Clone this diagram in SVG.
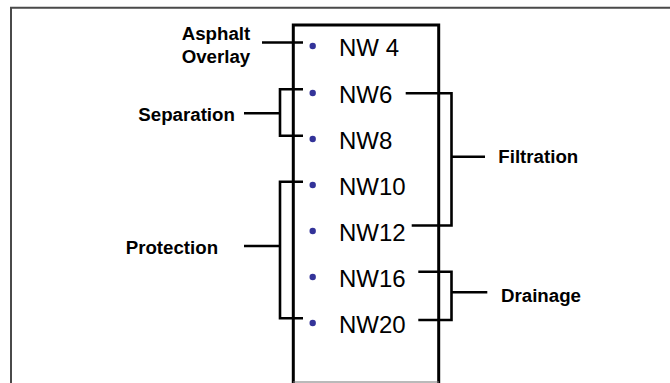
<svg xmlns="http://www.w3.org/2000/svg" width="670" height="383" viewBox="0 0 670 383">
<style>
.frame{fill:none;stroke:#4a4a4a;stroke-width:2}
.box{fill:none;stroke:#000;stroke-width:3}
.ln{fill:none;stroke:#000;stroke-width:2.6;stroke-linejoin:miter}
.dot{fill:#333399}
.nw{font-family:"Liberation Sans",Arial,Helvetica,sans-serif;font-size:24px;fill:#000}
.lbl{font-family:"Liberation Sans",Arial,Helvetica,sans-serif;font-size:18.7px;font-weight:bold;fill:#000}
</style>
<rect width="670" height="383" fill="#fff"/>
<path class="frame" d="M11,383 V7.7 H670"/>
<g id="box">
<path class="box" d="M293.3,383 V25 H438.7 V383"/>
<line x1="293" y1="382" x2="439" y2="382" stroke="#777" stroke-width="1.2"/>
</g>
<g id="connectors">
<line class="ln" x1="262" y1="42.5" x2="303" y2="42.5"/>
<path class="ln" d="M303,89.3 H280 V135.7 H303"/>
<line class="ln" x1="244" y1="113.3" x2="280" y2="113.3"/>
<path class="ln" d="M303,181.7 H280 V318.3 H303"/>
<line class="ln" x1="244" y1="246" x2="280" y2="246"/>
<path class="ln" d="M405.7,93.3 H451.5 V225.5 H411.7"/>
<line class="ln" x1="451.5" y1="156.7" x2="485" y2="156.7"/>
<path class="ln" d="M418.3,271.7 H451.5 V320 H418.3"/>
<line class="ln" x1="451.5" y1="292.3" x2="487.3" y2="292.3"/>
</g>
<g id="nw4"><circle class="dot" cx="312.7" cy="46" r="3.2"/><text class="nw" x="339" y="56.3">NW 4</text></g>
<g id="nw6"><circle class="dot" cx="312.7" cy="93" r="3.2"/><text class="nw" x="339" y="103">NW6</text></g>
<g id="nw8"><circle class="dot" cx="312.7" cy="139" r="3.2"/><text class="nw" x="339" y="149">NW8</text></g>
<g id="nw10"><circle class="dot" cx="312.7" cy="185" r="3.2"/><text class="nw" x="339" y="195">NW10</text></g>
<g id="nw12"><circle class="dot" cx="312.7" cy="231" r="3.2"/><text class="nw" x="339" y="241">NW12</text></g>
<g id="nw16"><circle class="dot" cx="312.7" cy="277" r="3.2"/><text class="nw" x="339" y="287">NW16</text></g>
<g id="nw20"><circle class="dot" cx="312.7" cy="323" r="3.2"/><text class="nw" x="339" y="332.5">NW20</text></g>
<g id="asphalt"><text class="lbl" x="181.7" y="40">Asphalt</text><text class="lbl" x="181.7" y="63.3">Overlay</text></g>
<g id="separation"><text class="lbl" x="138.3" y="120.5">Separation</text></g>
<g id="protection"><text class="lbl" x="125.7" y="253.5">Protection</text></g>
<g id="filtration"><text class="lbl" x="498.3" y="162.7">Filtration</text></g>
<g id="drainage"><text class="lbl" x="501" y="301.7">Drainage</text></g>
</svg>
